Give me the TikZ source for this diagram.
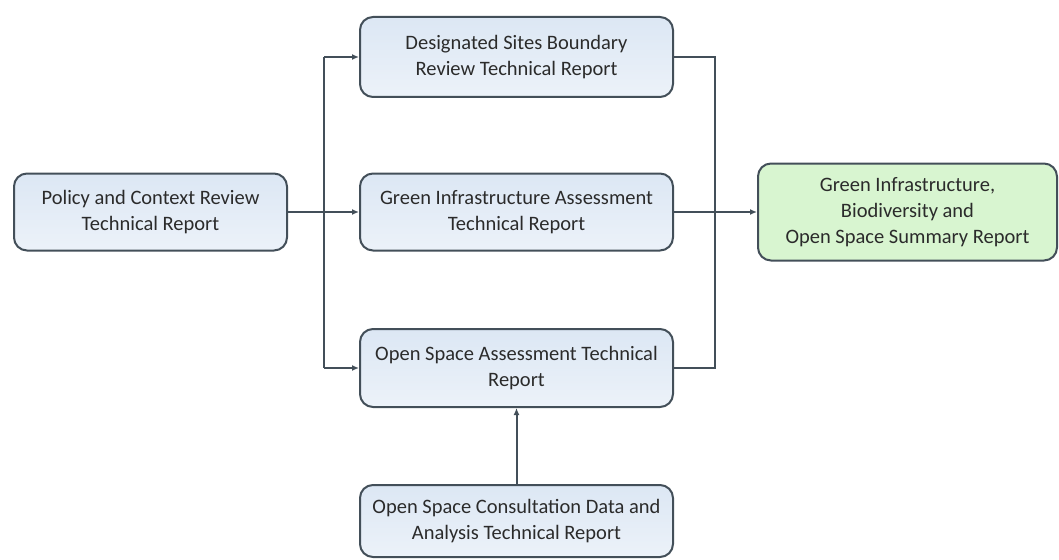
\documentclass[tikz,border=0pt]{standalone}
\usepackage{fontspec}
\setmainfont{Carlito}
\usetikzlibrary{arrows.meta}
\definecolor{boxblue}{HTML}{DCE7F4}
\definecolor{boxblueb}{HTML}{ECF2F9}
\definecolor{boxgreen}{HTML}{D8F5D0}
\definecolor{edgegrey}{HTML}{434F59}
\definecolor{textgrey}{HTML}{2B2B2B}
\begin{document}
\begin{tikzpicture}[x=1pt, y=-1pt,
    report/.style={draw=edgegrey, line width=2pt, rounded corners=13pt,
        top color=boxblue, bottom color=boxblueb, align=center,
        text=textgrey, font=\fontsize{20.5}{26}\selectfont,
        minimum width=313pt, inner sep=0pt},
    summary/.style={report, top color=boxgreen, bottom color=boxgreen,
        minimum width=299pt, minimum height=97pt},
    link/.style={draw=edgegrey, line width=2pt},
    arr/.style={link, -{Latex[length=7pt, width=6pt]}}]
    \useasboundingbox (0, 0) rectangle (1059, 559);
    \node[report, minimum width=273pt, minimum height=77pt] (policy) at (150.5, 212)
        {Policy and Context Review\\Technical Report};
    \node[report, minimum height=80pt] (sites) at (516.5, 57)
        {Designated Sites Boundary\\Review Technical Report};
    \node[report, minimum height=77pt] (green) at (516.5, 212)
        {Green Infrastructure Assessment\\Technical Report};
    \node[report, minimum height=78pt] (open) at (516.5, 368)
        {Open Space Assessment Technical\\Report};
    \node[report, minimum height=72pt] (consult) at (516.5, 521)
        {Open Space Consultation Data and\\Analysis Technical Report};
    \node[summary] (sum) at (907.5, 212)
        {Green Infrastructure,\\Biodiversity and\\Open Space Summary Report};
    \coordinate (split) at (324, 212);
    \coordinate (join) at (715, 212);
    % left fan-out
    \draw[arr] (policy.east) -- (green.west);
    \draw[link] (split |- sites.west) -- (split |- open.west);
    \draw[arr] (split |- sites.west) -- (sites.west);
    \draw[arr] (split |- open.west) -- (open.west);
    % right collector
    \draw[link] (sites.east) -- (join |- sites.east) -- (join |- open.east) -- (open.east);
    \draw[arr] (green.east) -- (sum.west);
    \draw[arr] (consult.north) -- (open.south);
\end{tikzpicture}
\end{document}
